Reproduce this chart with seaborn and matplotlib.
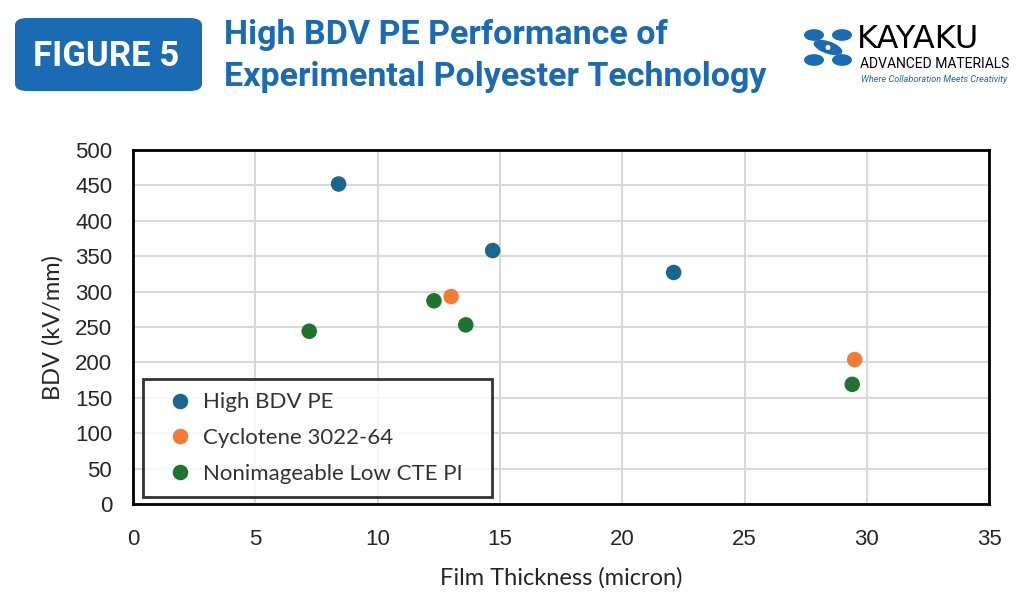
import matplotlib
matplotlib.use('Agg')
import matplotlib.pyplot as plt
from matplotlib.patches import FancyBboxPatch, Ellipse, Circle
import pandas as pd
import seaborn as sns

# data
pe_x = [8.4, 14.7, 22.1]
pe_y = [452, 358, 327]
cyc_x = [13.0, 29.5]
cyc_y = [293, 204]
pi_x = [7.2, 12.3, 13.6, 29.4]
pi_y = [244, 287, 253, 169]
series = ['High BDV PE', 'Cyclotene 3022-64', 'Nonimageable Low CTE PI']
colors = ['#1B668F', '#F27B35', '#1E7331']

df = pd.concat([
    pd.DataFrame({'x': pe_x, 'y': pe_y, 'grp': series[0]}),
    pd.DataFrame({'x': cyc_x, 'y': cyc_y, 'grp': series[1]}),
    pd.DataFrame({'x': pi_x, 'y': pi_y, 'grp': series[2]}),
])

sns.set_style('white')
plt.rcParams['font.family'] = ['Liberation Sans', 'DejaVu Sans']

fig = plt.figure(figsize=(10.24, 6), dpi=100)
ax = fig.add_axes([0.13, 0.16, 0.836, 0.59])

sns.scatterplot(data=df, x='x', y='y', hue='grp', hue_order=series,
                palette=colors, s=125, edgecolor='none', ax=ax, zorder=3)

ax.set_xlim(0, 35)
ax.set_ylim(0, 500)
ax.set_xticks(range(0, 36, 5))
ax.set_yticks(range(0, 501, 50))
ax.grid(True, color='#D9D9D9', lw=1.5)
ax.set_axisbelow(True)
for sp in ax.spines.values():
    sp.set_visible(True)
    sp.set_color('black')
    sp.set_linewidth(2)
ax.tick_params(axis='both', labelsize=16, colors='#262626', length=0)
ax.tick_params(axis='x', pad=18)
ax.tick_params(axis='y', pad=15)
ax.set_xlabel('Film Thickness (micron)', fontsize=17, family='Lato', color='#262626', labelpad=12)
ax.set_ylabel('BDV (kV/mm)', fontsize=17, family='Lato', color='#262626', labelpad=8)

leg = ax.legend(loc='lower left', bbox_to_anchor=(0.012, 0.02, 0.407, 0.33), mode='expand',
                frameon=True, fancybox=False, prop={'family': 'Lato', 'size': 16},
                handletextpad=0.0, borderpad=0.6, labelspacing=0.7,
                borderaxespad=0, handlelength=2.1)
leg.get_frame().set_edgecolor('black')
leg.get_frame().set_linewidth(2)
for t in leg.get_texts():
    t.set_color('#333333')

# header
fig.patches.append(FancyBboxPatch((15 / 1024, 1 - 91 / 600), 187 / 1024, 73 / 600,
                                  boxstyle='round,pad=0,rounding_size=0.012',
                                  transform=fig.transFigure, facecolor='#1A6BB3',
                                  edgecolor='none'))
fig.text(106 / 1024, 1 - 56 / 600, 'FIGURE 5', color='white', fontsize=25,
         fontweight='bold', ha='center', va='center', family='Roboto')
fig.text(224 / 1024, 1 - 35 / 600, 'High BDV PE Performance of', color='#1A6BB3',
         fontsize=24.5, fontweight='bold', ha='left', va='center', family='Roboto')
fig.text(224 / 1024, 1 - 77 / 600, 'Experimental Polyester Technology', color='#1A6BB3',
         fontsize=24.5, fontweight='bold', ha='left', va='center', family='Roboto')

# logo
lc = '#1A6BB3'
for cx, cy in [(814, 35), (842, 35), (814, 60), (842, 60)]:
    fig.patches.append(Circle((cx / 1024, 1 - cy / 600), 10 / 1024,
                              transform=fig.transFigure, facecolor=lc, edgecolor='none'))
fig.patches.append(Ellipse((828 / 1024, 1 - 47.5 / 600), 34 / 1024, 11 / 600, angle=-40,
                           transform=fig.transFigure, facecolor=lc, edgecolor='none'))
fig.patches.append(Ellipse((828 / 1024, 1 - 47.5 / 600), 5 / 1024, 5 / 600,
                           transform=fig.transFigure, facecolor='white', edgecolor='none'))
fig.text(857 / 1024, 1 - 39 / 600, 'KAYAKU', color='black', fontsize=23,
         ha='left', va='center', family='DejaVu Sans')
fig.text(860 / 1024, 1 - 64 / 600, 'ADVANCED MATERIALS', color='black', fontsize=10,
         ha='left', va='center', family='Roboto')
fig.text(861 / 1024, 1 - 79 / 600, 'Where Collaboration Meets Creativity', color=lc,
         fontsize=6.6, style='italic', ha='left', va='center', family='Roboto')

fig.savefig('out.png', dpi=100)
